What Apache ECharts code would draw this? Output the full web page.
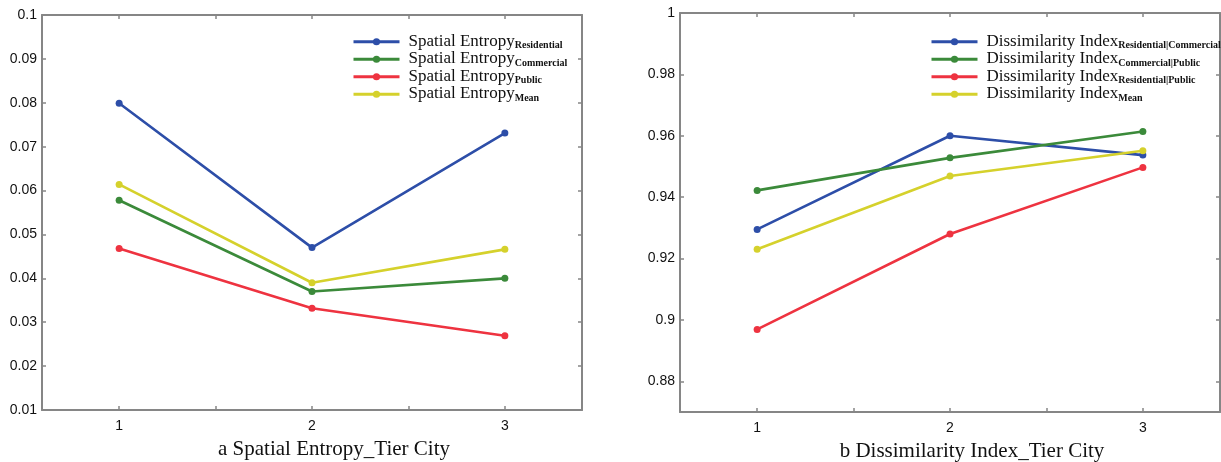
<!DOCTYPE html>
<html><head><meta charset="utf-8">
<script src="https://cdn.jsdelivr.net/npm/echarts@6/dist/echarts.min.js"></script>
<style>html,body{margin:0;padding:0;background:#fff}#c{width:1221px;height:462px}</style>
</head><body><div id="c"></div>
<script>
// ---- data ----
const tiers = [1, 2, 3];
const xTicks = [1, 1.5, 2, 2.5, 3];

const seMainLabel = 'Spatial Entropy';
const seSubs = ['Residential', 'Commercial', 'Public', 'Mean'];
const seResidential = [0.0799, 0.0470, 0.0731];
const seCommercial  = [0.0578, 0.0370, 0.0400];
const sePublic      = [0.0468, 0.0332, 0.0269];
const seMean        = [0.0614, 0.0390, 0.0466];
const seYTicks = [0.01, 0.02, 0.03, 0.04, 0.05, 0.06, 0.07, 0.08, 0.09, 0.1];

const diMainLabel = 'Dissimilarity Index';
const diSubs = ['Residential|Commercial', 'Commercial|Public', 'Residential|Public', 'Mean'];
const diResComm = [0.9295, 0.9600, 0.9537];
const diCommPub = [0.9422, 0.9528, 0.9614];
const diResPub  = [0.8969, 0.9280, 0.9497];
const diMean    = [0.9230, 0.9469, 0.9551];
const diYTicks = [0.88, 0.9, 0.92, 0.94, 0.96, 0.98, 1];

const titleA = 'a Spatial Entropy_Tier City';
const titleB = 'b Dissimilarity Index_Tier City';

// ---- styling ----
const colors = ['#2d4ea8', '#3b8a3a', '#ee3340', '#d5d12c'];
const spine = '#868686';
const SEP = '::';

const chart = echarts.init(document.getElementById('c'));

function pairs(vals) { return tiers.map((t, i) => [t, vals[i]]); }

function mkSeries(main, subs, valsList, axisIdx) {
  return valsList.map((vals, i) => ({
    type: 'line',
    name: main + SEP + subs[i],
    xAxisIndex: axisIdx, yAxisIndex: axisIdx,
    data: pairs(vals),
    symbol: 'circle', symbolSize: 7,
    lineStyle: { width: 2.6, color: colors[i] },
    itemStyle: { color: colors[i] },
    z: 10 + i
  }));
}

function xAxisPair(gi, title) {
  const base = {
    type: 'value', gridIndex: gi, min: 0.6, max: 3.4,
    axisLine: { show: true, onZero: false, lineStyle: { color: spine, width: 2 } },
    axisTick: { show: true, inside: true, length: 4, customValues: xTicks, lineStyle: { color: spine, width: 1.5 } },
    splitLine: { show: false }
  };
  return [
    Object.assign({}, base, {
      position: 'bottom',
      axisLabel: { show: true, customValues: tiers, margin: 9, color: '#111', fontFamily: 'Liberation Sans', fontSize: 14 },
      name: title, nameLocation: 'middle', nameGap: 29,
      nameTextStyle: { fontFamily: 'Liberation Serif', fontSize: 21, color: '#111', padding: [0, 0, 0, 44] }
    }),
    Object.assign({}, base, { position: 'top', axisLabel: { show: false } })
  ];
}

function yAxisPair(gi, min, max, ticks) {
  const base = {
    type: 'value', gridIndex: gi, min: min, max: max,
    axisLine: { show: true, onZero: false, lineStyle: { color: spine, width: 2 } },
    axisTick: { show: true, inside: true, length: 4, customValues: ticks, lineStyle: { color: spine, width: 1.5 } },
    splitLine: { show: false }
  };
  return [
    Object.assign({}, base, {
      position: 'left',
      axisLabel: { show: true, customValues: ticks, margin: 5, color: '#111', fontFamily: 'Liberation Sans', fontSize: 14 }
    }),
    Object.assign({}, base, { position: 'right', axisLabel: { show: false } })
  ];
}

function mkLegend(left, top, main, subs) {
  return {
    orient: 'vertical', left: left, top: top,
    itemWidth: 46, itemHeight: 9, itemGap: 0,
    selectedMode: false,
    lineStyle: { width: 3 },
    data: subs.map(s => main + SEP + s),
    formatter: n => { const p = n.split(SEP); return '{a|' + p[0] + '}{b|' + p[1] + '}'; },
    textStyle: {
      rich: {
        a: { fontFamily: 'Liberation Serif', fontSize: 17, color: '#111', lineHeight: 17.5, verticalAlign: 'top', padding: [0, 0, 0, 4] },
        b: { fontFamily: 'Liberation Serif', fontSize: 10, fontWeight: 'bold', color: '#111', lineHeight: 5, verticalAlign: 'bottom' }
      }
    }
  };
}

const xa0 = xAxisPair(0, titleA), xa1 = xAxisPair(1, titleB);
const ya0 = yAxisPair(0, 0.01, 0.1, seYTicks), ya1 = yAxisPair(1, 0.87, 1, diYTicks);

chart.setOption({
  animation: false,
  backgroundColor: '#fff',
  grid: [
    { left: 42, top: 15, width: 540, height: 395, containLabel: false, outerBoundsMode: 'none' },
    { left: 680, top: 13, width: 540, height: 399, containLabel: false, outerBoundsMode: 'none' }
  ],
  xAxis: [xa0[0], xa1[0], xa0[1], xa1[1]],
  yAxis: [ya0[0], ya1[0], ya0[1], ya1[1]],
  legend: [
    mkLegend(347, 28, seMainLabel, seSubs),
    mkLegend(925, 28, diMainLabel, diSubs)
  ],
  series: [].concat(
    mkSeries(seMainLabel, seSubs, [seResidential, seCommercial, sePublic, seMean], 0),
    mkSeries(diMainLabel, diSubs, [diResComm, diCommPub, diResPub, diMean], 1)
  )
});
</script>
</body></html>
